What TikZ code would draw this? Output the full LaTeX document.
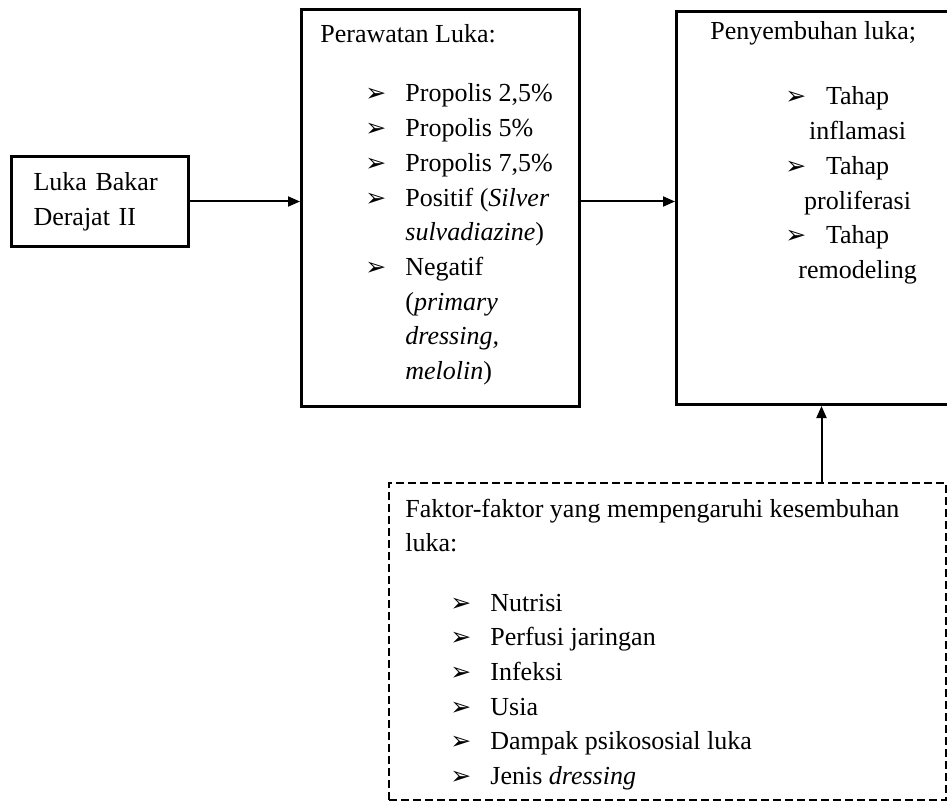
\documentclass[tikz,border=0pt]{standalone}
\usepackage{fontspec}
\setmainfont{Liberation Serif}
\newfontfamily\dingfont{DejaVu Sans}
\usepackage{tikz}
\usetikzlibrary{arrows.meta}

\newlength{\pxu}
\setlength{\pxu}{0.5pt}
\newcommand{\bul}{{\dingfont\fontsize{12.5}{12.5}\selectfont ➢}}
\newcommand{\bodyfont}{\fontsize{13}{17.35}\selectfont}

\begin{document}
\begin{tikzpicture}[x=0.5pt, y=-0.5pt,
    box/.style={draw, line width=1.5pt, anchor=north west, inner sep=0pt},
    dbox/.style={draw, line width=1pt, dash pattern=on 4pt off 2pt, anchor=north west, inner sep=0pt},
    txt/.style={anchor=base west, inner sep=0pt, font=\bodyfont},
    link/.style={line width=1pt, -{Triangle[length=6pt, width=5pt]}}]
    \useasboundingbox (0,0) rectangle (947,802);
    \clip (0,0) rectangle (947,802);

    \node[box, minimum width=177\pxu, minimum height=90\pxu, text width=133\pxu,
          align=left, font=\bodyfont] (burn) at (10,155) {Luka Bakar\\Derajat II};

    \begin{scope}
        \node[box, minimum width=278\pxu, minimum height=397\pxu] (care) at (300,8) {};
        \node[txt] (careT) at (320,43) {Perawatan Luka:};
        \node[txt] (careL) at (365,102) {\begin{tabular}[t]{@{}p{20pt}@{}l@{}}
            \bul & Propolis 2,5\% \\
            \bul & Propolis 5\% \\
            \bul & Propolis 7,5\% \\
            \bul & Positif (\textit{Silver} \\
                 & \textit{sulvadiazine}) \\
            \bul & Negatif \\
                 & (\textit{primary} \\
                 & \textit{dressing,} \\
                 & \textit{melolin})
        \end{tabular}};
    \end{scope}

    \begin{scope}
        \node[box, minimum width=290\pxu, minimum height=393\pxu] (heal) at (675,10) {};
        \node[txt] (healT) at (710,40) {Penyembuhan luka;};
        \node[txt] (healL) at (785,105) {\begin{tabular}[t]{@{}p{6.5pt}@{}c@{}}
            \bul & Tahap \\
                 & inflamasi \\
            \bul & Tahap \\
                 & proliferasi \\
            \bul & Tahap \\
                 & remodeling
        \end{tabular}};
    \end{scope}

    \begin{scope}
        \node[dbox, minimum width=557\pxu, minimum height=317\pxu] (factor) at (388,482) {};
        \node[txt] (factorT) at (405,517) {\begin{tabular}[t]{@{}l@{}}
            Faktor-faktor yang mempengaruhi kesembuhan \\
            luka:
        \end{tabular}};
        \node[txt] (factorL) at (450,611) {\begin{tabular}[t]{@{}p{20pt}@{}l@{}}
            \bul & Nutrisi \\
            \bul & Perfusi jaringan \\
            \bul & Infeksi \\
            \bul & Usia \\
            \bul & Dampak psikososial luka \\
            \bul & Jenis \textit{dressing}
        \end{tabular}};
    \end{scope}

    \draw[link] (burn.east) -- (burn.east -| care.west);
    \draw[link] (care.east |- burn.east) -- (heal.west |- burn.east);
    \draw[link] (heal.south |- factor.north) -- (heal.south);
\end{tikzpicture}
\end{document}
